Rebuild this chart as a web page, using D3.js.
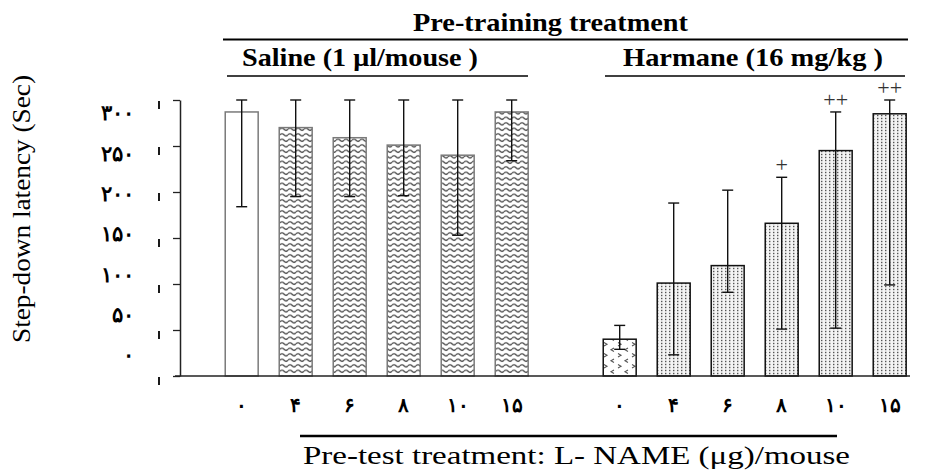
<!DOCTYPE html>
<html>
<head>
<meta charset="utf-8">
<script src="https://cdn.jsdelivr.net/npm/d3@7"></script>
<style>
  body { margin: 0; background: #fff; }
  svg { display: block; }
  .serif { font-family: "Liberation Serif", "Times New Roman", Times, serif; }
  .fa { font-family: "Liberation Serif", serif; font-weight: bold; }
</style>
</head>
<body>
<div id="chart"></div>
<script>
// dose labels (Persian digits, as in the figure)
const doseLabels = ["۰", "۴", "۶", "۸", "۱۰", "۱۵"];
const yTickValues = [0, 50, 100, 150, 200, 250, 300];
const yTickLabels = ["۰", "۵۰", "۱۰۰", "۱۵۰", "۲۰۰", "۲۵۰", "۳۰۰"];

// saline pre-training group
const salineMean = [287, 270, 259, 251, 240, 287];
const salineUpper = [300, 300, 300, 300, 300, 300];
const salineLower = [184, 195, 195, 196, 153, 234];

// harmane pre-training group
const harmaneMean = [40, 101, 120, 166, 245, 285];
const harmaneUpper = [55, 188, 202, 216, 287, 300];
const harmaneLower = [29, 23, 91, 51, 52, 99];
const harmaneSig = ["", "", "", "+", "++", "++"];

var W = 943, H = 470;
var svg = d3.select("#chart").append("svg").attr("width", W).attr("height", H);

// slots: 6 saline, one empty gap, 6 harmane
var slots = [];
doseLabels.forEach(function (d, i) { slots.push("s" + i); });
slots.push("gap");
doseLabels.forEach(function (d, i) { slots.push("h" + i); });

var x = d3.scaleBand().domain(slots).range([214.7, 916.7])
	.paddingInner(0.39).paddingOuter(0.195);
var y = d3.scaleLinear().domain([0, 300]).range([376, 100]);
// the tick labels in the figure sit on their own spacing
var yLab = d3.scaleLinear().domain([0, 300]).range([355, 113]);

var bars = [];
doseLabels.forEach(function (d, i) {
	bars.push({ key: "s" + i, label: d, mean: salineMean[i], hi: salineUpper[i], lo: salineLower[i],
		fill: i === 0 ? "#fff" : "url(#wave)", stroke: "#7a7a7a", sig: "" });
});
doseLabels.forEach(function (d, i) {
	bars.push({ key: "h" + i, label: d, mean: harmaneMean[i], hi: harmaneUpper[i], lo: harmaneLower[i],
		fill: i === 0 ? "url(#chev)" : "url(#dots)", stroke: "#111", sig: harmaneSig[i] });
});

// patterns
var defs = svg.append("defs");
var wave = defs.append("pattern").attr("id", "wave").attr("patternUnits", "userSpaceOnUse")
	.attr("width", 8).attr("height", 5.5);
wave.append("rect").attr("width", 8).attr("height", 5.5).attr("fill", "#fff");
wave.append("path").attr("d", "M0,2.8 Q2,0.6 4,2.8 T8,2.8").attr("fill", "none")
	.attr("stroke", "#444").attr("stroke-width", 1.3);

var dots = defs.append("pattern").attr("id", "dots").attr("patternUnits", "userSpaceOnUse")
	.attr("width", 4).attr("height", 3);
dots.append("rect").attr("width", 4).attr("height", 3).attr("fill", "#f4f4f4");
dots.append("rect").attr("x", 1).attr("y", 0.8).attr("width", 1.4).attr("height", 1.4).attr("fill", "#555");

var chev = defs.append("pattern").attr("id", "chev").attr("patternUnits", "userSpaceOnUse")
	.attr("width", 14).attr("height", 11);
chev.append("rect").attr("width", 14).attr("height", 11).attr("fill", "#fff");
chev.append("path").attr("d", "M2,1.5 L5,3.2 L2,4.9 M12,7 L9,8.7 L12,10.4")
	.attr("fill", "none").attr("stroke", "#555").attr("stroke-width", 1.1);

// bars
svg.selectAll("rect.bar").data(bars).enter().append("rect")
	.attr("class", "bar")
	.attr("x", function (d) { return x(d.key); })
	.attr("y", function (d) { return y(d.mean); })
	.attr("width", x.bandwidth())
	.attr("height", function (d) { return y(0) - y(d.mean); })
	.attr("fill", function (d) { return d.fill; })
	.attr("stroke", function (d) { return d.stroke; })
	.attr("stroke-width", 1.5);

// error bars
var cap = 5.5;
var err = svg.append("g").attr("stroke", "#111").attr("stroke-width", 1.4);
bars.forEach(function (d) {
	var cx = x(d.key) + x.bandwidth() / 2;
	err.append("line").attr("x1", cx).attr("x2", cx).attr("y1", y(d.lo)).attr("y2", y(d.hi));
	err.append("line").attr("x1", cx - cap).attr("x2", cx + cap).attr("y1", y(d.hi)).attr("y2", y(d.hi));
	err.append("line").attr("x1", cx - cap).attr("x2", cx + cap).attr("y1", y(d.lo)).attr("y2", y(d.lo));
});

// significance marks
svg.selectAll("text.sig").data(bars.filter(function (d) { return d.sig; })).enter().append("text")
	.attr("class", "sig serif")
	.attr("x", function (d) { return x(d.key) + x.bandwidth() / 2; })
	.attr("y", function (d) { return y(d.hi) - 5; })
	.attr("text-anchor", "middle")
	.style("font-size", "22px")
	.attr("fill", "#333")
	.text(function (d) { return d.sig; });

// y axis
var axisX = 180;
var yAxis = svg.append("g").attr("transform", "translate(" + axisX + ",0)")
	.call(d3.axisLeft(y).tickValues(yTickValues).tickSize(7).tickSizeOuter(0).tickFormat(""));
yAxis.select(".domain").attr("stroke", "#222").attr("stroke-width", 1.5);
yAxis.selectAll(".tick line").attr("stroke", "#222").attr("stroke-width", 1.3);

// the little stroke marks left of the ticks
svg.append("g").selectAll("line").data(yTickValues).enter().append("line")
	.attr("x1", 159).attr("x2", 159)
	.attr("y1", function (d) { return y(d) + 1; })
	.attr("y2", function (d) { return y(d) + 9; })
	.attr("stroke", "#000").attr("stroke-width", 1.8);

svg.append("g").selectAll("text").data(yTickValues).enter().append("text")
	.attr("class", "fa")
	.attr("x", 134)
	.attr("y", function (d) { return yLab(d); })
	.attr("dy", "0.35em")
	.attr("text-anchor", "end")
	.style("font-size", "21px")
	.text(function (d, i) { return yTickLabels[i]; });

// baseline
svg.append("line").attr("x1", axisX - 5).attr("x2", 910)
	.attr("y1", y(0)).attr("y2", y(0)).attr("stroke", "#222").attr("stroke-width", 1.5);

// x labels
svg.append("g").selectAll("text").data(bars).enter().append("text")
	.attr("class", "fa")
	.attr("x", function (d) { return x(d.key) + x.bandwidth() / 2; })
	.attr("y", 405)
	.attr("dy", "0.35em")
	.attr("text-anchor", "middle")
	.style("font-size", "20px")
	.text(function (d) { return d.label; });

// headings
function heading(txt, x0, len, base, size, weight) {
	svg.append("text").attr("class", "serif").attr("x", x0).attr("y", base)
		.attr("textLength", len).attr("lengthAdjust", "spacingAndGlyphs")
		.style("font-weight", weight)
		.style("font-size", size + "px")
		.text(txt);
}
heading("Pre-training treatment", 413, 275, 31, 25, "bold");
heading("Saline (1 μl/mouse )", 242, 236, 66, 26, "bold");
heading("Harmane (16 mg/kg )", 623, 260, 66, 26, "bold");
heading("Pre-test treatment: L- NAME (μg)/mouse", 303, 547, 464, 26, "normal");

function rule(x1, x2, yy, w) {
	svg.append("line").attr("x1", x1).attr("x2", x2).attr("y1", yy).attr("y2", yy)
		.attr("stroke", "#000").attr("stroke-width", w);
}
rule(223, 908, 39.5, 2);
rule(227, 528, 76, 1.6);
rule(605, 905, 76, 1.6);
rule(300, 837, 436, 2.5);

// y title
svg.append("text")
	.attr("class", "serif")
	.attr("transform", "translate(30,209) rotate(-90)")
	.attr("text-anchor", "middle")
	.attr("textLength", 268).attr("lengthAdjust", "spacingAndGlyphs")
	.style("font-size", "25px")
	.text("Step-down latency (Sec)");
</script>
</body>
</html>
